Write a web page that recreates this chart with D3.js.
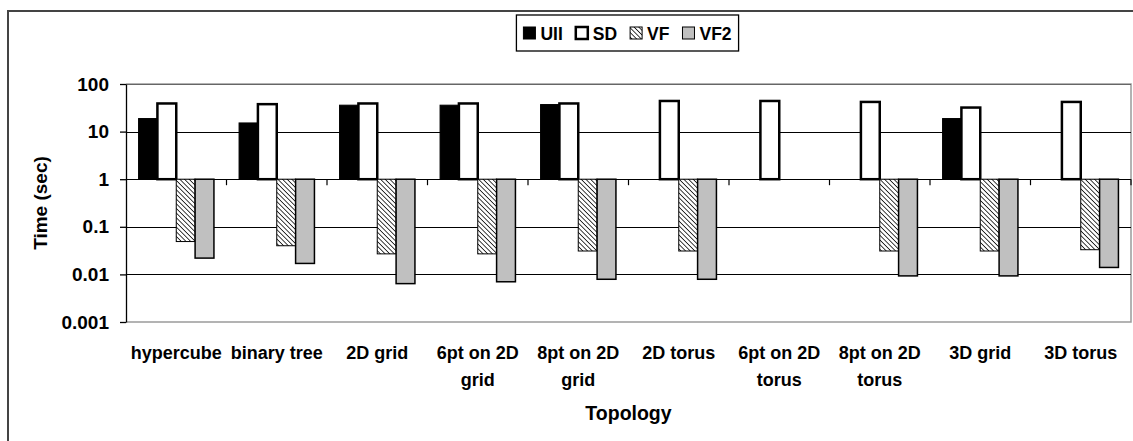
<!DOCTYPE html>
<html>
<head>
<meta charset="utf-8">
<script src="https://cdn.jsdelivr.net/npm/d3@7"></script>
<style>
  body { margin: 0; background: #fff; }
  text { font-family: "Liberation Sans", Arial, sans-serif; font-weight: bold; fill: #000; }
</style>
</head>
<body>
<div id="chart"></div>
<script>
// chart data
let categories = ["hypercube", "binary tree", "2D grid", "6pt on 2D grid", "8pt on 2D grid",
  "2D torus", "6pt on 2D torus", "8pt on 2D torus", "3D grid", "3D torus"];
let seriesNames = ["UII", "SD", "VF", "VF2"];
let uii = [18.8, 15.2, 35.9, 35.9, 37, null, null, null, 18.8, null];
let sd  = [39, 37.7, 39, 39, 39, 44, 44, 42, 32, 42];
let vf  = [0.049, 0.040, 0.027, 0.027, 0.031, 0.031, null, 0.031, 0.031, 0.033];
let vf2 = [0.022, 0.017, 0.0064, 0.007, 0.0079, 0.0079, null, 0.0093, 0.0093, 0.014];
let tickValues = [0.001, 0.01, 0.1, 1, 10, 100];
let tickLabels = ["0.001", "0.01", "0.1", "1", "10", "100"];

let svgWidth = 1133;
let svgHeight = 441;

// plot area in page coordinates
let plot = { left: 126, right: 1131, top: 84, bottom: 322 };

let svg = d3.select("#chart")
  .append("svg")
  .attr("width", svgWidth)
  .attr("height", svgHeight);

// hatch for VF
let defs = svg.append("defs");
defs.append("pattern")
  .attr("id", "hatch")
  .attr("patternUnits", "userSpaceOnUse")
  .attr("width", 3.3)
  .attr("height", 3.3)
  .attr("patternTransform", "rotate(-45)")
  .call(p => {
    p.append("rect").attr("width", 3.3).attr("height", 3.3).attr("fill", "#fff");
    p.append("line").attr("x1", 0).attr("y1", 0).attr("x2", 0).attr("y2", 3.3)
      .attr("stroke", "#000").attr("stroke-width", 1.5);
  });

// outer frame (runs off the right and bottom)
svg.append("rect")
  .attr("x", 8).attr("y", 11)
  .attr("width", 1140).attr("height", 450)
  .attr("fill", "none")
  .attr("stroke", "#444")
  .attr("stroke-width", 2);

// scales
let x0 = d3.scaleBand()
  .domain(categories)
  .range([plot.left, plot.right]);

let x1 = d3.scaleBand()
  .domain(seriesNames)
  .range([x0.step() * 0.125, x0.step() * 0.875]);

let y = d3.scaleLog()
  .domain([0.001, 100])
  .range([plot.bottom, plot.top]);

// plot border (grey, top/right/bottom)
svg.append("path")
  .attr("d", `M${plot.left},${plot.top}H${plot.right}V${plot.bottom}H${plot.left}`)
  .attr("fill", "none")
  .attr("stroke", "#9a9a9a")
  .attr("stroke-width", 1.5);

// gridlines
svg.append("g")
  .selectAll("line")
  .data(tickValues.filter(d => d > 0.001))
  .enter()
  .append("line")
  .attr("x1", plot.left)
  .attr("x2", plot.right)
  .attr("y1", d => Math.round(y(d)) + 0.5)
  .attr("y2", d => Math.round(y(d)) + 0.5)
  .attr("stroke", d => d === 100 ? "#666" : "#000")
  .attr("stroke-width", 1.2);

// bars, hanging from 1
let styles = {
  UII: { fill: "#000", stroke: "#000", width: 1 },
  SD:  { fill: "#fff", stroke: "#000", width: 2.5 },
  VF:  { fill: "url(#hatch)", stroke: "#000", width: 1 },
  VF2: { fill: "#c0c0c0", stroke: "#000", width: 1.5 }
};
let seriesValues = { UII: uii, SD: sd, VF: vf, VF2: vf2 };

let barData = [];
categories.forEach((c, i) => {
  seriesNames.forEach(s => {
    let v = seriesValues[s][i];
    if (v != null) barData.push({ cat: c, series: s, value: v });
  });
});

svg.append("g")
  .selectAll("rect")
  .data(barData)
  .enter()
  .append("rect")
  .attr("x", d => x0(d.cat) + x1(d.series))
  .attr("width", x1.bandwidth())
  .attr("y", d => Math.min(y(d.value), y(1)))
  .attr("height", d => Math.abs(y(d.value) - y(1)))
  .attr("fill", d => styles[d.series].fill)
  .attr("stroke", d => styles[d.series].stroke)
  .attr("stroke-width", d => styles[d.series].width);

// category tick marks on the 1 line
svg.append("g")
  .selectAll("line")
  .data(categories)
  .enter()
  .append("line")
  .attr("x1", d => x0(d) + x0.step())
  .attr("x2", d => x0(d) + x0.step())
  .attr("y1", y(1))
  .attr("y2", y(1) + 6)
  .attr("stroke", "#000")
  .attr("stroke-width", 1.2);

// y axis
let leftAxis = d3.axisLeft(y)
  .tickValues(tickValues)
  .tickFormat((d, i) => tickLabels[i])
  .tickSizeInner(6)
  .tickSizeOuter(0)
  .tickPadding(11);

let yAxisG = svg.append("g")
  .attr("transform", `translate(${plot.left}, 0)`)
  .call(leftAxis);
yAxisG.selectAll("path, line").attr("stroke", "#000").attr("stroke-width", 1.3);
yAxisG.selectAll("text")
  .style("font-family", "'Liberation Sans', Arial, sans-serif")
  .style("font-weight", "bold")
  .style("font-size", "19px")
  .attr("fill", "#000");

// category labels
let bottomAxis = d3.axisBottom(x0)
  .tickSize(0)
  .tickPadding(24);

let xAxisG = svg.append("g")
  .attr("transform", `translate(0, ${plot.bottom})`)
  .call(bottomAxis);
xAxisG.select(".domain").remove();
xAxisG.selectAll("text")
  .style("font-family", "'Liberation Sans', Arial, sans-serif")
  .style("font-weight", "bold")
  .style("font-size", "18px")
  .attr("fill", "#000")
  .call(wrap, x0.step() - 2);

function wrap(texts, width) {
  texts.each(function () {
    let text = d3.select(this);
    let words = text.text().split(/\s+/);
    let yPos = text.attr("y");
    let dy = text.attr("dy");
    text.text(null);
    let line = [];
    let lineNo = 0;
    let tspan = text.append("tspan").attr("x", 0).attr("y", yPos).attr("dy", dy);
    words.forEach(w => {
      line.push(w);
      tspan.text(line.join(" "));
      if (tspan.node().getComputedTextLength() > width && line.length > 1) {
        line.pop();
        tspan.text(line.join(" "));
        line = [w];
        lineNo++;
        tspan = text.append("tspan").attr("x", 0).attr("y", yPos)
          .attr("dy", (27 * lineNo) + 13 + "px")
          .text(w);
      }
    });
  });
}

// axis titles
svg.append("text")
  .attr("transform", `translate(47, ${(plot.top + plot.bottom) / 2}) rotate(-90)`)
  .attr("text-anchor", "middle")
  .style("font-size", "19px")
  .text("Time (sec)");

svg.append("text")
  .attr("x", (plot.left + plot.right) / 2)
  .attr("y", 420)
  .attr("text-anchor", "middle")
  .style("font-size", "19.5px")
  .text("Topology");

// legend
let legend = svg.append("g");
let lx = 0;
seriesNames.forEach(s => {
  let item = legend.append("g").attr("transform", `translate(${lx}, 0)`);
  item.append("rect")
    .attr("x", 0).attr("y", -6)
    .attr("width", 12).attr("height", 12)
    .attr("fill", styles[s].fill)
    .attr("stroke", "#000")
    .attr("stroke-width", s === "SD" ? 2.5 : 1);
  let t = item.append("text")
    .attr("x", 17)
    .attr("y", 6.5)
    .style("font-size", "17.5px")
    .text(s);
  lx += 17 + t.node().getComputedTextLength() + 13;
});
let legendW = lx - 13;
let boxW = legendW + 14;
let boxX = 627.5 - boxW / 2;
legend.attr("transform", `translate(${boxX + 7}, 33)`);
svg.insert("rect", "g")
  .attr("x", boxX).attr("y", 15)
  .attr("width", boxW).attr("height", 36)
  .attr("fill", "#fff")
  .attr("stroke", "#000")
  .attr("stroke-width", 1.3);
</script>
</body>
</html>
